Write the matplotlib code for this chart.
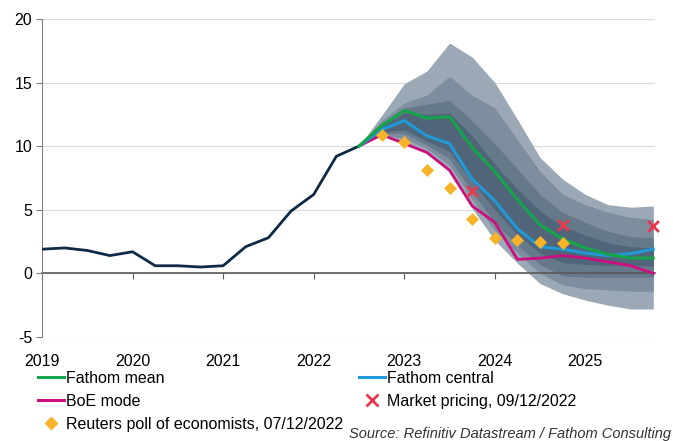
import numpy as np
import matplotlib.pyplot as plt
from matplotlib.lines import Line2D

plt.rcParams['font.family'] = ['Liberation Sans', 'DejaVu Sans']
plt.rcParams['axes.unicode_minus'] = False

# UK CPI inflation history, quarterly from 2019 Q1
hist_t = [2019.0, 2019.25, 2019.5, 2019.75, 2020.0, 2020.25, 2020.5, 2020.75,
          2021.0, 2021.25, 2021.5, 2021.75, 2022.0, 2022.25, 2022.5]
hist_v = [1.9, 2.0, 1.8, 1.4, 1.7, 0.6, 0.6, 0.5, 0.6, 2.1, 2.8, 4.9, 6.2, 9.2, 10.0]

# forecast horizon
fc_t = [2022.5, 2022.75, 2023.0, 2023.25, 2023.5, 2023.75, 2024.0, 2024.25,
        2024.5, 2024.75, 2025.0, 2025.25, 2025.5, 2025.75]
fathom_mean = [10.0, 11.6, 12.8, 12.2, 12.3, 9.9, 8.0, 5.8, 3.8, 2.7, 2.0, 1.5, 1.2, 1.2]
fathom_central = [10.0, 11.3, 12.0, 10.8, 10.2, 7.4, 5.7, 3.5, 2.1, 1.9, 1.6, 1.4, 1.55, 1.9]
boe_mode = [10.0, 10.9, 10.2, 9.5, 8.1, 5.3, 4.0, 1.1, 1.2, 1.4, 1.2, 0.9, 0.6, 0.0]

# fan chart bands (outer to inner)
outer_hi = [10.0, 12.4, 14.9, 15.9, 18.1, 17.0, 15.0, 12.1, 9.1, 7.4, 6.2, 5.4, 5.2, 5.3]
outer_lo = [10.0, 10.8, 10.2, 9.5, 8.0, 5.1, 2.6, 0.8, -0.8, -1.6, -2.1, -2.5, -2.8, -2.8]
mid_hi = [10.0, 12.0, 13.4, 14.0, 15.5, 14.0, 13.0, 10.5, 8.0, 6.2, 5.4, 4.8, 4.4, 4.25]
mid_lo = [10.0, 10.9, 10.6, 9.8, 8.5, 5.8, 3.4, 1.6, 0.0, -0.9, -1.2, -1.3, -1.4, -1.4]
inner_hi = [10.0, 11.8, 13.0, 13.3, 13.6, 12.0, 10.2, 8.2, 6.2, 4.8, 4.0, 3.3, 2.9, 2.8]
inner_lo = [10.0, 11.0, 11.0, 10.1, 9.0, 6.4, 4.0, 2.2, 0.7, -0.2, -0.3, -0.3, -0.3, -0.3]
core_hi = [10.0, 11.6, 12.6, 12.5, 12.6, 10.8, 8.6, 6.6, 4.9, 3.7, 3.0, 2.4, 2.1, 2.0]
core_lo = [10.0, 11.1, 11.3, 10.4, 9.6, 7.2, 5.0, 3.0, 1.6, 0.85, 0.7, 0.65, 0.6, 0.6]

# Reuters poll and market pricing
poll_t = [2022.75, 2023.0, 2023.25, 2023.5, 2023.75, 2024.0, 2024.25, 2024.5, 2024.75]
poll_v = [10.9, 10.3, 8.1, 6.7, 4.3, 2.8, 2.6, 2.5, 2.4]
mkt_t = [2023.75, 2024.75, 2025.75]
mkt_v = [6.5, 3.8, 3.7]

year_ticks = [2019, 2020, 2021, 2022, 2023, 2024, 2025]

fig = plt.figure(figsize=(6.73, 4.41), dpi=100)
ax = fig.add_axes([0.0624, 0.2358, 0.911, 0.7214])

ax.fill_between(fc_t, outer_lo, outer_hi, color='#9ba8b5', lw=0, zorder=1)
ax.fill_between(fc_t, mid_lo, mid_hi, color='#7e8e9e', lw=0, zorder=1)
ax.fill_between(fc_t, inner_lo, inner_hi, color='#66798b', lw=0, zorder=1)
ax.fill_between(fc_t, core_lo, core_hi, color='#506579', lw=0, zorder=1)

ax.plot(hist_t, hist_v, color='#0e2a44', lw=2, zorder=3)
ax.plot(fc_t, boe_mode, color='#cc0f7f', lw=2, zorder=4)
ax.plot(fc_t, fathom_central, color='#1f9ad6', lw=2.2, zorder=4)
ax.plot(fc_t, fathom_mean, color='#14a54b', lw=2.2, zorder=4)
ax.scatter(poll_t, poll_v, marker='D', s=44, color='#f7b329', lw=0, zorder=5)
ax.scatter(mkt_t, mkt_v, marker='x', s=60, color='#e8384f', lw=2, zorder=5,
           clip_on=False)

ax.set_xlim(2019, 2025.77)
ax.set_ylim(-5, 20)
ax.set_yticks([-5, 0, 5, 10, 15, 20])
ax.set_xticks(year_ticks)
ax.set_xticklabels([str(y) for y in year_ticks])
ax.yaxis.grid(True, color='#dcdcdc', lw=0.9)
ax.set_axisbelow(True)

for s in ['top', 'right']:
    ax.spines[s].set_visible(False)
ax.spines['left'].set_color('#808080')
ax.spines['bottom'].set_position(('data', 0))
ax.spines['bottom'].set_color('#595959')
ax.spines['bottom'].set_linewidth(1.2)
ax.spines['bottom'].set_zorder(2)
ax.tick_params(axis='y', length=4, color='#808080', labelsize=11.5, pad=3)
ax.tick_params(axis='x', length=4, color='#595959', labelsize=11.5, pad=54)

handles = [
    Line2D([], [], color='#14a54b', lw=2.2),
    Line2D([], [], color='#cc0f7f', lw=2.2),
    Line2D([], [], marker='D', color='#f7b329', ls='none', markersize=6.5),
    Line2D([], [], color='#1f9ad6', lw=2.2),
    Line2D([], [], marker='x', color='#e8384f', ls='none', markersize=8, mew=2),
]
labels = ['Fathom mean', 'BoE mode', 'Reuters poll of economists, 07/12/2022',
          'Fathom central', 'Market pricing, 09/12/2022']
fig.legend(handles, labels, ncol=2, loc='upper left', bbox_to_anchor=(0.045, 0.177),
           frameon=False, fontsize=11.5, handlelength=1.6, handletextpad=0.15,
           labelspacing=0.5, columnspacing=1.0, borderpad=0)

# chart heading sits at the very top edge
fig.text(0.005, 1.012, 'Annual percentage change', fontsize=14, color='#333333',
         va='baseline', ha='left')
fig.text(0.997, 0.0, 'Source: Refinitiv Datastream / Fathom Consulting',
         fontsize=10.5, style='italic', color='#333333', ha='right', va='bottom')

fig.savefig('out.png', dpi=100)
